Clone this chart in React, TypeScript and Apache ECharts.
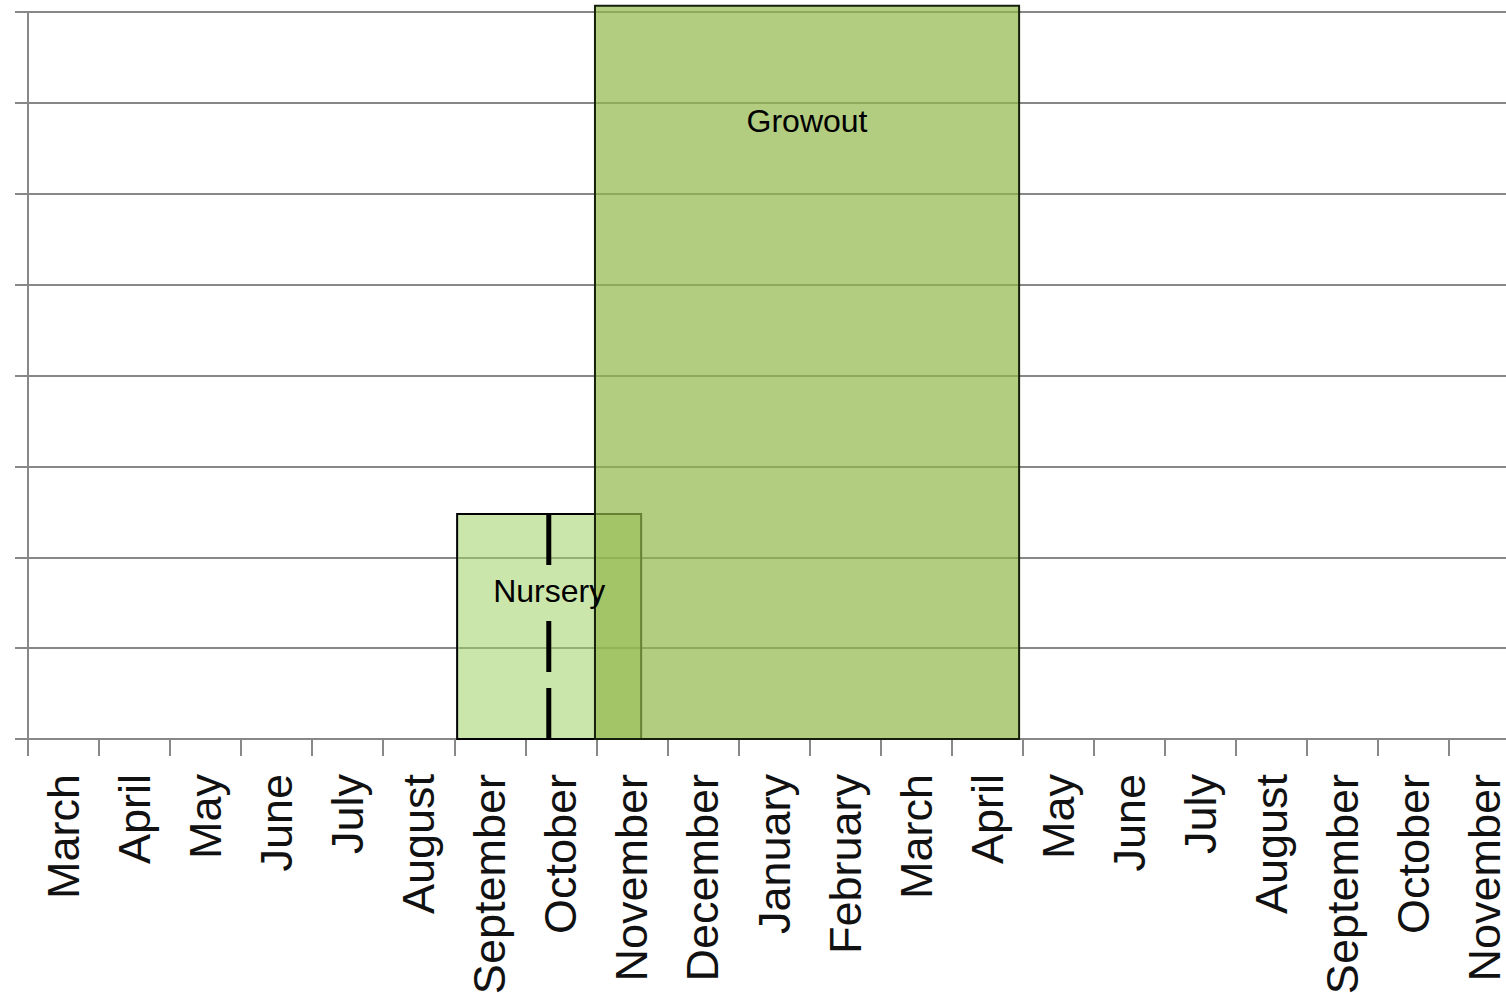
import React, { useEffect, useRef } from "react";
import * as echarts from "echarts";

const months = [
  "March", "April", "May", "June", "July", "August", "September", "October",
  "November", "December", "January", "February", "March", "April", "May",
  "June", "July", "August", "September", "October", "November",
];

// phases: [start (month index), end, height, label y]
const phaseNames = ["Nursery", "Growout"];
const phaseStart = [6.04, 7.98];
const phaseEnd = [8.63, 13.95];
const phaseTop = [2.475, 8.07];
const phaseLabelY = [1.63, 6.8];
const phaseFill = ["rgba(160,210,100,0.55)", "rgba(146,182,74,0.7)"];
const phaseStroke = ["#000000", "#141f0c"];

// dashed divider inside nursery
const dividerX = [7.33];
const dividerTop = [2.475];

const yMax = 8;

export default function App() {
  const ref = useRef<HTMLDivElement>(null);
  useEffect(() => {
    if (!ref.current) return;
    const chart = echarts.init(ref.current, undefined, { renderer: "svg" });
    const boxData = phaseNames.map((n, i) => [phaseStart[i], phaseEnd[i], phaseTop[i], phaseLabelY[i], i]);
    const option: any = {
      animation: false,
      grid: { left: 28, right: 0, top: 12, bottom: 254, containLabel: false, outerBoundsMode: "none" },
      xAxis: [
        {
          type: "category",
          data: months,
          boundaryGap: true,
          axisLine: { show: true, lineStyle: { color: "#888888", width: 2 } },
          axisTick: { show: true, length: 17, lineStyle: { color: "#888888", width: 2 }, alignWithLabel: false },
          axisLabel: {
            rotate: 90,
            interval: 0,
            margin: 35,
            fontSize: 45,
            color: "#111111",
            fontFamily: "Liberation Sans, Arial, sans-serif",
          },
          splitLine: { show: false },
        },
        { type: "value", min: 0, max: months.length, show: false },
      ],
      yAxis: {
        type: "value",
        min: 0,
        max: yMax,
        interval: 1,
        axisLine: { show: true, lineStyle: { color: "#888888", width: 2 } },
        axisTick: { show: true, length: 13, lineStyle: { color: "#888888", width: 2 } },
        axisLabel: { show: false },
        splitLine: { show: true, lineStyle: { color: "#878787", width: 2 } },
      },
      series: [
        {
          type: "custom",
          xAxisIndex: 1,
          yAxisIndex: 0,
          z: 3,
          data: boxData,
          renderItem: (params: any, api: any) => {
            const s = api.value(0), e = api.value(1), t = api.value(2);
            const idx = api.value(4);
            const p0 = api.coord([s, t]);
            const p1 = api.coord([e, 0]);
            return {
              type: "rect",
              shape: { x: p0[0], y: p0[1], width: p1[0] - p0[0], height: p1[1] - p0[1] },
              style: { fill: phaseFill[idx], stroke: phaseStroke[idx], lineWidth: 2 },
            };
          },
        },
        {
          type: "custom",
          xAxisIndex: 1,
          yAxisIndex: 0,
          z: 4,
          data: dividerX.map((x, i) => [x, dividerTop[i]]),
          renderItem: (params: any, api: any) => {
            const a = api.coord([api.value(0), api.value(1)]);
            const b = api.coord([api.value(0), 0]);
            return {
              type: "line",
              shape: { x1: a[0], y1: a[1], x2: b[0], y2: b[1] },
              style: { stroke: "#000000", lineWidth: 5, lineDash: [51, 56, 51, 16, 60] },
            };
          },
        },
        {
          type: "custom",
          xAxisIndex: 1,
          yAxisIndex: 0,
          z: 5,
          data: boxData,
          renderItem: (params: any, api: any) => {
            const s = api.value(0), e = api.value(1), ly = api.value(3);
            const idx = api.value(4);
            const p = api.coord([(s + e) / 2, ly]);
            return {
              type: "text",
              x: p[0],
              y: p[1],
              style: {
                text: phaseNames[idx],
                fill: "#000000",
                font: "32px 'Liberation Sans', Arial, sans-serif",
                align: "center",
                verticalAlign: "middle",
              },
            };
          },
        },
      ],
    };
    chart.setOption(option);
    return () => chart.dispose();
  }, []);
  return (
    <div style={{ position: "fixed", left: 0, top: 0, width: 1506, height: 993, overflow: "hidden", background: "#ffffff" }}>
      <div ref={ref} style={{ position: "absolute", left: 0, top: 0, width: 1520, height: 993 }} />
    </div>
  );
}
